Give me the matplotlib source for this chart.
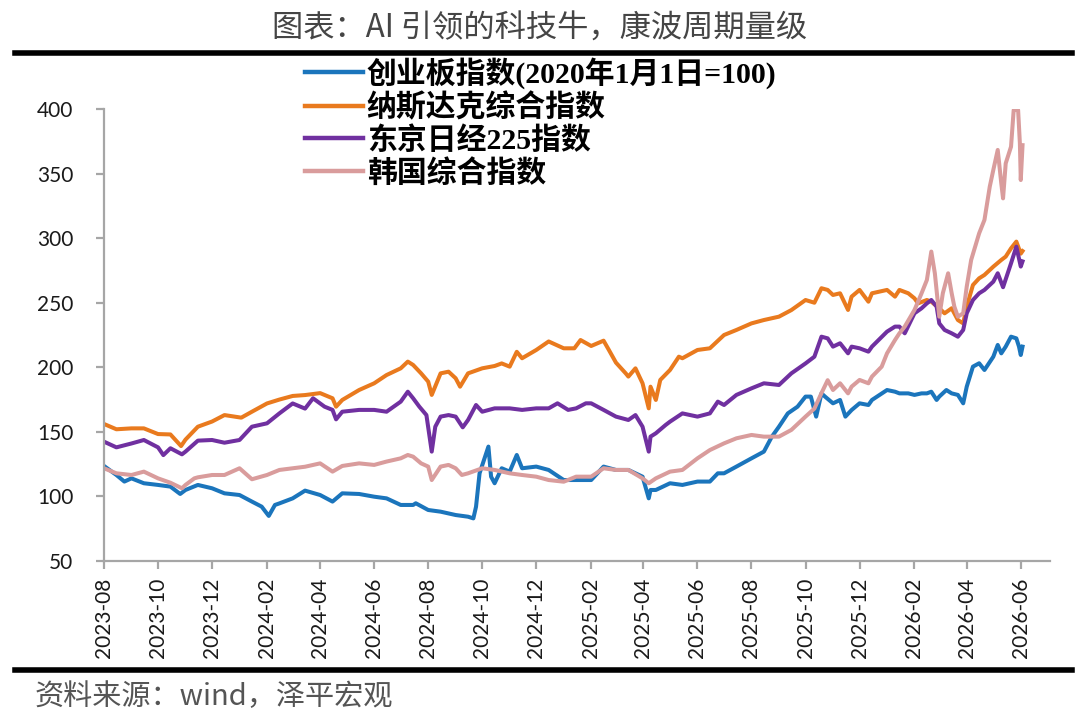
import matplotlib
matplotlib.use("Agg")
import matplotlib.pyplot as plt
import matplotlib.dates as mdates
from matplotlib.lines import Line2D
import pandas as pd

plt.rcParams['font.family'] = ['Noto Sans CJK SC', 'DejaVu Sans']

# ---------------- data ----------------
title = "图表：AI 引领的科技牛，康波周期量级"
source = "资料来源：wind，泽平宏观"
series_names = ["创业板指数(2020年1月1日=100)", "纳斯达克综合指数", "东京日经225指数", "韩国综合指数"]
series_colors = ["#1b75bc", "#e97a1e", "#7030a0", "#d99c9c"]

chinext_dates = ["2023-08-01", "2023-08-15", "2023-08-24", "2023-09-01", "2023-09-15", "2023-10-01", "2023-10-15",
                 "2023-10-26", "2023-11-01", "2023-11-15", "2023-12-01", "2023-12-15", "2024-01-01", "2024-01-15",
                 "2024-01-26", "2024-02-03", "2024-02-10", "2024-02-15", "2024-03-01", "2024-03-15", "2024-04-01",
                 "2024-04-15", "2024-04-26", "2024-05-15", "2024-06-01", "2024-06-15", "2024-07-01",
                 "2024-07-15", "2024-07-18", "2024-08-01", "2024-08-15", "2024-09-01", "2024-09-15", "2024-09-21",
                 "2024-09-24", "2024-09-28", "2024-10-08", "2024-10-11", "2024-10-15", "2024-10-23", "2024-11-01",
                 "2024-11-09", "2024-11-15", "2024-12-01", "2024-12-15", "2025-01-01", "2025-01-15", "2025-02-01",
                 "2025-02-15", "2025-03-01", "2025-03-15", "2025-03-31", "2025-04-07", "2025-04-09", "2025-04-15",
                 "2025-05-01", "2025-05-15", "2025-06-01", "2025-06-15", "2025-06-24", "2025-07-01", "2025-07-15",
                 "2025-08-01", "2025-08-15", "2025-08-24", "2025-09-01", "2025-09-11", "2025-09-22", "2025-10-01",
                 "2025-10-07", "2025-10-13", "2025-10-19", "2025-10-23", "2025-11-01", "2025-11-09", "2025-11-15",
                 "2025-11-22", "2025-12-01", "2025-12-11", "2025-12-15", "2026-01-01", "2026-01-10", "2026-01-15",
                 "2026-01-25", "2026-02-01", "2026-02-09", "2026-02-15", "2026-02-20", "2026-02-26", "2026-03-01",
                 "2026-03-09", "2026-03-15", "2026-03-22", "2026-03-28", "2026-04-01", "2026-04-08", "2026-04-15",
                 "2026-04-21", "2026-05-01", "2026-05-06", "2026-05-10", "2026-05-15", "2026-05-21", "2026-05-27",
                 "2026-05-30", "2026-06-01", "2026-06-03"]
chinext_vals = [123.6, 116.6, 111.5, 114.0, 110.2, 108.9, 107.6,
                101.9, 105.0, 108.9, 106.3, 102.4, 101.1, 96.0,
                92.1, 84.9, 93.4, 94.6, 98.5, 104.5, 101.1,
                96.0, 102.4, 101.9, 99.8, 98.5, 93.4,
                93.4, 94.7, 89.5, 88.2, 85.6, 84.3, 83.0,
                92.0, 117.9, 138.6, 115.3, 110.2, 121.8, 119.2,
                132.1, 121.8, 123.1, 120.5, 112.7, 112.7, 112.7,
                123.1, 120.5, 120.5, 115.3, 98.5, 105.0, 105.0,
                110.2, 108.9, 111.5, 111.5, 117.9, 117.9, 123.1,
                129.5, 134.7, 146.3, 154.0, 164.3, 169.5, 177.3,
                177.3, 161.8, 179.8, 177.3, 172.1, 174.7, 161.8,
                166.9, 172.1, 170.8, 174.7, 182.4, 181.1, 179.8,
                179.8, 178.6, 179.8, 179.8, 181.1, 174.7, 177.3,
                182.4, 179.8, 178.6, 172.1, 185.0, 200.5, 203.1,
                197.9, 208.2, 217.3, 210.8, 216.0, 223.7, 222.4,
                216.0, 209.5, 216.0]

nasdaq_dates = ["2023-08-01", "2023-08-15", "2023-09-01", "2023-09-15", "2023-10-01", "2023-10-15", "2023-10-27",
                "2023-11-01", "2023-11-15", "2023-12-01", "2023-12-15", "2024-01-03", "2024-01-15", "2024-02-01",
                "2024-02-15", "2024-03-01", "2024-03-15", "2024-04-01", "2024-04-15", "2024-04-19", "2024-04-26",
                "2024-05-15", "2024-06-01", "2024-06-15", "2024-07-01", "2024-07-09", "2024-07-15",
                "2024-07-24", "2024-08-01", "2024-08-05", "2024-08-15", "2024-08-24", "2024-09-01", "2024-09-06",
                "2024-09-15", "2024-10-01", "2024-10-15", "2024-10-23", "2024-11-01", "2024-11-09", "2024-11-15",
                "2024-12-01", "2024-12-15", "2025-01-01", "2025-01-13", "2025-01-20", "2025-02-01", "2025-02-15",
                "2025-02-21", "2025-03-01", "2025-03-12", "2025-03-15", "2025-03-23", "2025-03-31", "2025-04-07",
                "2025-04-09", "2025-04-15", "2025-04-20", "2025-05-01", "2025-05-11", "2025-05-15", "2025-06-01",
                "2025-06-15", "2025-07-01", "2025-07-15", "2025-08-01", "2025-08-15", "2025-09-01", "2025-09-15",
                "2025-10-01", "2025-10-11", "2025-10-19", "2025-10-26", "2025-11-01", "2025-11-09", "2025-11-18",
                "2025-11-22", "2025-12-01", "2025-12-11", "2025-12-15", "2026-01-01", "2026-01-10", "2026-01-15",
                "2026-01-25", "2026-02-01", "2026-02-05", "2026-02-15", "2026-02-20", "2026-03-01", "2026-03-07",
                "2026-03-15", "2026-03-22", "2026-03-28", "2026-04-01", "2026-04-08", "2026-04-15", "2026-04-21",
                "2026-05-01", "2026-05-10", "2026-05-15", "2026-05-21", "2026-05-27", "2026-06-01", "2026-06-03"]
nasdaq_vals = [156.1, 152.0, 152.7, 152.7, 148.3, 148.0, 139.0,
               144.0, 154.0, 158.0, 163.0, 161.0, 165.6, 172.0,
               175.0, 177.8, 178.5, 180.0, 176.0, 169.5, 174.7,
               182.4, 187.6, 194.0, 199.2, 204.4, 201.8,
               195.3, 188.9, 178.6, 195.3, 196.6, 191.5, 185.0,
               195.3, 199.2, 201.0, 203.0, 200.5, 212.0, 207.0,
               213.4, 220.0, 214.7, 214.7, 221.1, 216.5, 220.6,
               213.4, 203.6, 195.3, 192.8, 199.2, 187.6, 168.2,
               185.0, 174.7, 190.2, 197.9, 208.2, 207.0, 213.4,
               214.7, 225.0, 228.9, 234.0, 236.6, 239.2, 244.3,
               252.1, 250.0, 261.2, 259.9, 256.0, 257.3, 244.4,
               254.7, 259.9, 250.8, 257.3, 259.9, 254.7, 259.9,
               257.3, 253.4, 249.5, 252.1, 250.8, 245.7, 241.8,
               245.7, 236.6, 234.0, 247.0, 263.7, 268.9, 271.5,
               277.9, 283.1, 285.7, 292.1, 297.3, 288.0, 290.0]

nikkei_dates = ["2023-08-01", "2023-08-15", "2023-09-01", "2023-09-15", "2023-10-01", "2023-10-07", "2023-10-15",
                "2023-10-28", "2023-11-01", "2023-11-15", "2023-12-01", "2023-12-15", "2024-01-01", "2024-01-15",
                "2024-02-01", "2024-02-15", "2024-03-01", "2024-03-15", "2024-03-24", "2024-04-06", "2024-04-15",
                "2024-04-19", "2024-04-26", "2024-05-15", "2024-06-01", "2024-06-15", "2024-07-01", "2024-07-09",
                "2024-07-15", "2024-07-22", "2024-07-30", "2024-08-05", "2024-08-09", "2024-08-15", "2024-08-24",
                "2024-09-01", "2024-09-09", "2024-09-15", "2024-09-24", "2024-10-01", "2024-10-15", "2024-11-01",
                "2024-11-15", "2024-12-01", "2024-12-15", "2024-12-25", "2025-01-06", "2025-01-15", "2025-01-26",
                "2025-02-01", "2025-02-15", "2025-03-01", "2025-03-15", "2025-03-23", "2025-03-31", "2025-04-07",
                "2025-04-09", "2025-04-15", "2025-04-26", "2025-05-01", "2025-05-15", "2025-06-01", "2025-06-15",
                "2025-06-24", "2025-07-01", "2025-07-15", "2025-08-01", "2025-08-15", "2025-09-01", "2025-09-15",
                "2025-10-01", "2025-10-11", "2025-10-19", "2025-10-26", "2025-11-01", "2025-11-09", "2025-11-18",
                "2025-11-22", "2025-12-01", "2025-12-11", "2025-12-15", "2026-01-01", "2026-01-10", "2026-01-15",
                "2026-01-21", "2026-02-01", "2026-02-09", "2026-02-15", "2026-02-20", "2026-02-26", "2026-03-01",
                "2026-03-07", "2026-03-15", "2026-03-22", "2026-03-28", "2026-04-01", "2026-04-08", "2026-04-15",
                "2026-04-21", "2026-05-01", "2026-05-06", "2026-05-12", "2026-05-21", "2026-05-27", "2026-06-01",
                "2026-06-03"]
nikkei_vals = [142.4, 138.0, 141.0, 143.7, 138.0, 132.0, 137.3,
               132.6, 134.7, 143.2, 143.7, 141.6, 143.7, 154.0,
               156.6, 164.3, 172.0, 168.0, 176.0, 169.5, 167.0,
               159.7, 165.6, 167.0, 167.0, 165.6, 173.4, 181.1,
               176.0, 169.5, 163.0, 134.7, 154.0, 161.8, 163.0,
               161.8, 153.5, 159.2, 170.8, 165.6, 168.2, 168.2,
               167.0, 168.2, 168.2, 172.1, 167.0, 168.2, 172.1,
               172.1, 167.0, 161.8, 159.2, 163.0, 154.0, 134.7,
               146.3, 148.9, 155.3, 157.9, 164.3, 161.8, 164.3,
               173.4, 170.8, 178.6, 183.7, 187.6, 186.3, 195.3,
               203.0, 208.2, 223.7, 222.4, 216.0, 218.6, 210.8,
               216.0, 214.7, 212.1, 216.0, 227.6, 231.5, 231.5,
               226.3, 241.8, 245.7, 249.5, 252.1, 247.0, 234.0,
               228.9, 226.3, 223.7, 228.9, 241.8, 252.1, 257.3,
               259.9, 266.3, 272.8, 262.0, 280.5, 293.4, 278.0,
               282.0]

kospi_dates = ["2023-08-01", "2023-08-15", "2023-09-01", "2023-09-15", "2023-10-01", "2023-10-15", "2023-10-28",
               "2023-11-01", "2023-11-11", "2023-11-15", "2023-12-01", "2023-12-15", "2024-01-01", "2024-01-15",
               "2024-02-01", "2024-02-15", "2024-03-01", "2024-03-15", "2024-04-01", "2024-04-15", "2024-04-26",
               "2024-05-15", "2024-06-01", "2024-06-15", "2024-07-01", "2024-07-09", "2024-07-15", "2024-07-24",
               "2024-08-01", "2024-08-05", "2024-08-15", "2024-08-24", "2024-09-01", "2024-09-08", "2024-09-15",
               "2024-10-01", "2024-10-15", "2024-11-01", "2024-11-15", "2024-12-01", "2024-12-15", "2025-01-01",
               "2025-01-15", "2025-02-01", "2025-02-15", "2025-03-01", "2025-03-15", "2025-03-31", "2025-04-07",
               "2025-04-15", "2025-05-01", "2025-05-15", "2025-06-01", "2025-06-15", "2025-07-01", "2025-07-15",
               "2025-08-01", "2025-08-15", "2025-09-01", "2025-09-15", "2025-10-01", "2025-10-11", "2025-10-19",
               "2025-10-26", "2025-11-01", "2025-11-09", "2025-11-18", "2025-11-22", "2025-12-01", "2025-12-11",
               "2025-12-15", "2025-12-26", "2026-01-01", "2026-01-10", "2026-01-15", "2026-01-21", "2026-02-01",
               "2026-02-09", "2026-02-15", "2026-02-20", "2026-02-24", "2026-03-01", "2026-03-05", "2026-03-11",
               "2026-03-15", "2026-03-18", "2026-03-22", "2026-03-28", "2026-04-01", "2026-04-06", "2026-04-15",
               "2026-04-21", "2026-04-27", "2026-05-01", "2026-05-06", "2026-05-10", "2026-05-12", "2026-05-15",
               "2026-05-21", "2026-05-24", "2026-05-29", "2026-05-31", "2026-06-01", "2026-06-03"]
kospi_vals = [121.8, 117.9, 116.6, 119.2, 114.0, 110.6, 106.3,
              108.9, 114.0, 114.8, 116.6, 116.6, 121.8, 113.3,
              116.6, 120.5, 121.8, 123.0, 125.6, 119.2, 123.6,
              125.6, 124.4, 127.0, 129.5, 132.1, 130.8, 125.6,
              123.1, 112.7, 123.1, 124.4, 121.8, 116.6, 117.9,
              121.8, 120.5, 117.9, 116.6, 115.3, 112.7, 111.4,
              115.3, 115.3, 121.8, 120.5, 120.5, 114.0, 110.2,
              114.0, 119.2, 120.5, 129.5, 135.9, 141.1, 145.0,
              147.6, 146.3, 146.3, 151.5, 161.8, 168.0, 180.0,
              190.0, 182.4, 187.6, 179.8, 185.0, 190.2, 187.6,
              192.8, 200.5, 210.8, 221.1, 226.3, 231.5, 244.4,
              257.3, 267.6, 289.6, 272.8, 239.2, 257.3, 272.8,
              257.3, 247.0, 239.2, 241.8, 262.5, 283.1, 303.7,
              314.1, 339.9, 352.8, 368.3, 342.4, 330.8, 357.9,
              370.8, 399.2, 399.2, 373.4, 345.0, 372.0]

y_ticks = [50, 100, 150, 200, 250, 300, 350, 400]
x_start, x_end = "2023-08-01", "2026-07-04"

# ---------------- figure ----------------
W, H = 1080, 719
fig = plt.figure(figsize=(W / 100, H / 100), dpi=100)
fig.patch.set_facecolor("white")

ax = fig.add_axes([104 / W, 1 - 561 / H, (1050 - 104) / W, (561 - 109) / H])

all_series = [(chinext_dates, chinext_vals), (nasdaq_dates, nasdaq_vals),
              (nikkei_dates, nikkei_vals), (kospi_dates, kospi_vals)]
handles = []
for (d, v), name, c in zip(all_series, series_names, series_colors):
    h, = ax.plot(pd.to_datetime(d), v, color=c, lw=2.9, solid_joinstyle="round", label=name)
    handles.append(h)

ax.set_ylim(50, 400)
ax.set_yticks(y_ticks)
ax.set_xlim(pd.Timestamp(x_start), pd.Timestamp(x_end))
ax.xaxis.set_major_locator(mdates.MonthLocator(bymonth=[2, 4, 6, 8, 10, 12]))
ax.xaxis.set_major_formatter(mdates.DateFormatter("%Y-%m"))

for s in ["top", "right"]:
    ax.spines[s].set_visible(False)
for s in ["left", "bottom"]:
    ax.spines[s].set_color("#a6a6a6")
    ax.spines[s].set_linewidth(1.6)

ax.tick_params(axis="y", length=6, width=1.6, color="#a6a6a6", pad=16, labelsize=15,
               labelcolor="#1a1a1a")
ax.tick_params(axis="x", length=6, width=1.6, color="#a6a6a6", pad=6, labelsize=15,
               labelcolor="#1a1a1a", labelrotation=90)
for lab in ax.get_xticklabels() + ax.get_yticklabels():
    lab.set_fontfamily(["Lato", "DejaVu Sans"])

# legend
leg = fig.legend(handles=handles, labels=series_names, loc="upper left",
                 bbox_to_anchor=(305 / W, 1 - 57 / H), bbox_transform=fig.transFigure,
                 frameon=False, borderpad=0, borderaxespad=0, handlelength=1.95,
                 handletextpad=0.12, labelspacing=0.13,
                 prop={"family": ["Liberation Serif", "Noto Sans CJK SC"], "weight": "bold", "size": 21.5})
for line in leg.get_lines():
    line.set_linewidth(3.2)

# title, rules, source
fig.text(540 / W, 1 - 29 / H, title, ha="center", va="center", fontsize=22.5, color="#454545",
         family=["Noto Sans CJK SC", "DejaVu Sans"], weight="light")
fig.add_artist(Line2D([15 / W, 1072 / W], [1 - 53 / H, 1 - 53 / H], color="black", lw=4, transform=fig.transFigure))
fig.add_artist(Line2D([15 / W, 1072 / W], [1 - 670 / H, 1 - 670 / H], color="black", lw=4, transform=fig.transFigure))
fig.text(35 / W, 1 - 697 / H, source, ha="left", va="center", fontsize=21, color="#555555",
         family=["Noto Sans CJK SC", "DejaVu Sans"], style="italic")

fig.savefig("out.png", dpi=100, facecolor="white")
